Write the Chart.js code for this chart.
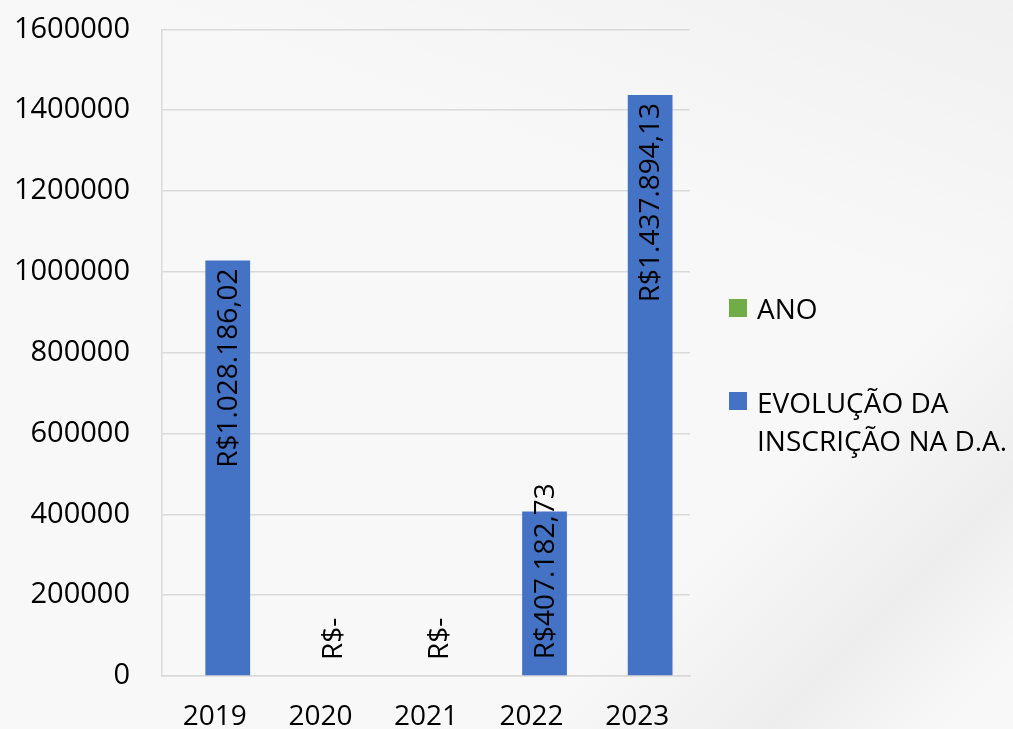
<!DOCTYPE html>
<html>
<head>
<meta charset="utf-8">
<script src="https://cdn.jsdelivr.net/npm/chart.js@4.4.0/dist/chart.umd.min.js"></script>
<style>
  html, body { margin: 0; padding: 0; width: 1013px; height: 729px; overflow: hidden; }
  body {
    background:
      linear-gradient(135deg, rgba(0,0,0,0) 72%, rgba(0,0,0,0.045) 86%, rgba(0,0,0,0) 96%),
      linear-gradient(200deg, rgba(0,0,0,0.03) 0%, rgba(0,0,0,0) 30%),
      #f8f8f8;
    font-family: "Open Sans", sans-serif;
    position: relative;
  }
  #wrap { position: absolute; left: 0; top: -20px; width: 1013px; height: 765px; }
  .legend { position: absolute; left: 729px; color: #000; font-size: 28px; line-height: 38px; }
  .legend .box { position: absolute; left: 0; width: 18px; height: 18px; }
  .legend .txt { position: absolute; left: 28px; white-space: nowrap; }
</style>
</head>
<body>
<div id="wrap"><canvas id="evolucaoChart" width="1013" height="765"></canvas></div>
<div class="legend" style="top:289px">
  <div class="box" style="top:10px;background:#70ad47"></div>
  <div class="txt" style="top:0">ANO</div>
</div>
<div class="legend" style="top:383px">
  <div class="box" style="top:9px;background:#4472c4"></div>
  <div class="txt" style="top:0">EVOLUÇÃO DA<br>INSCRIÇÃO NA D.A.</div>
</div>
<script>
const anos = ['2019', '2020', '2021', '2022', '2023']
const valoresAno = [2019, 2020, 2021, 2022, 2023]
const valoresInscricao = [1028186.02, 0, 0, 407182.73, 1437894.13]
const rotulosInscricao = ['R$1.028.186,02', 'R$-', 'R$-', 'R$407.182,73', 'R$1.437.894,13']

// rotulos verticais dentro da barra (como no Excel)
const rotulosPlugin = {
    id: 'rotulos',
    afterDatasetsDraw(chart) {
        const ctx = chart.ctx
        const meta = chart.getDatasetMeta(1)
        ctx.save()
        ctx.font = '28px "Open Sans"'
        ctx.fillStyle = '#000'
        ctx.textAlign = 'left'
        ctx.textBaseline = 'middle'
        meta.data.forEach((bar, i) => {
            const txt = rotulosInscricao[i]
            const w = ctx.measureText(txt).width
            const start = Math.min(bar.y + 8 + w, bar.base - 16)
            ctx.save()
            ctx.translate(bar.x, start)
            ctx.rotate(-Math.PI / 2)
            ctx.fillText(txt, 0, 1)
            ctx.restore()
        })
        ctx.restore()
    }
}

const ctx = document.getElementById('evolucaoChart').getContext('2d')

const evolucaoChart = new Chart(ctx, {
    type: 'bar',
    data: {
        labels: anos,
        datasets: [{
            label: 'ANO',
            data: valoresAno,
            backgroundColor: '#70ad47',
            categoryPercentage: 0.49,
            barPercentage: 1.73,
        }, {
            label: 'EVOLUÇÃO DA INSCRIÇÃO NA D.A.',
            data: valoresInscricao,
            backgroundColor: '#4472c4',
            categoryPercentage: 0.49,
            barPercentage: 1.73,
        }]
    },
    options: {
        responsive: false,
        animation: false,
        layout: {
            padding: { top: 11, right: 323, left: 0, bottom: 0 }
        },
        plugins: {
            legend: { display: false },
            tooltip: { enabled: false }
        },
        scales: {
            x: {
                grid: { display: false, drawTicks: false },
                border: { display: true, color: '#d9d9d9', width: 1.5 },
                ticks: {
                    color: '#000',
                    font: { family: 'Open Sans', size: 28 },
                    padding: 24,
                    maxRotation: 0
                },
                afterFit(scale) { scale.height = 69 }
            },
            y: {
                min: 0,
                max: 1600000,
                grid: { color: '#d9d9d9', lineWidth: 1.5, drawTicks: false },
                border: { display: true, color: '#d9d9d9', width: 1.5 },
                ticks: {
                    stepSize: 200000,
                    color: '#000',
                    font: { family: 'Open Sans', size: 29 },
                    padding: 32,
                    callback: v => String(v)
                },
                afterFit(scale) { scale.width = 162 }
            }
        }
    },
    plugins: [rotulosPlugin]
})
</script>
</body>
</html>
